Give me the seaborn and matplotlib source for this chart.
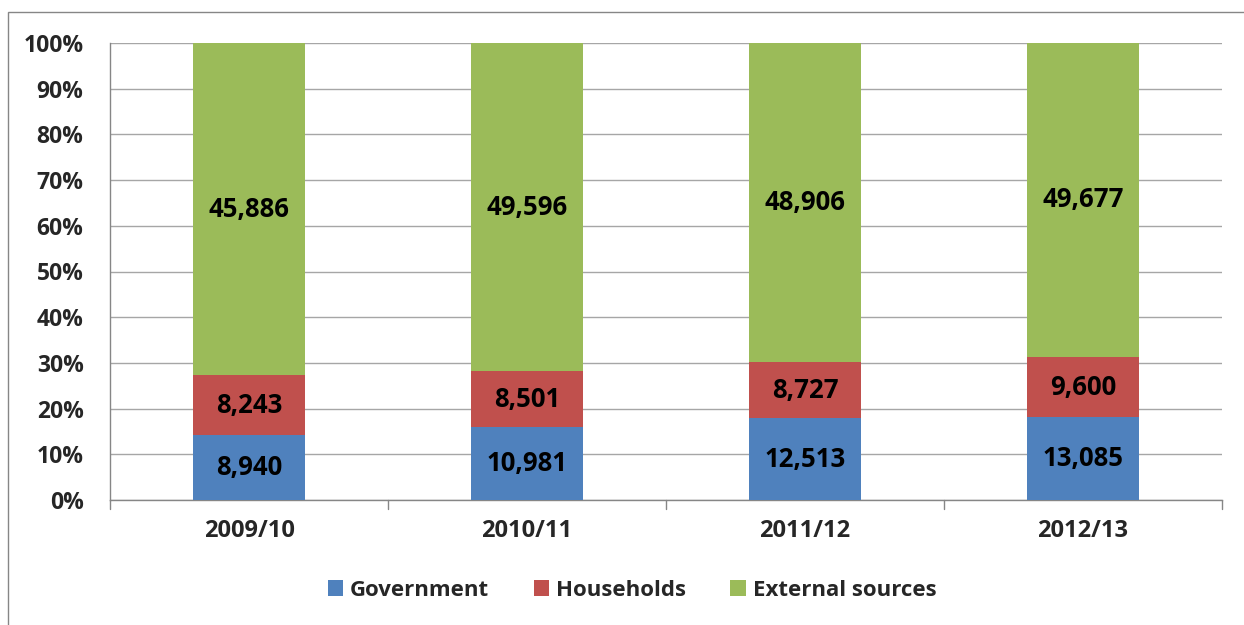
import matplotlib
matplotlib.use("Agg")
import matplotlib.pyplot as plt
import seaborn as sns
import numpy as np
import pandas as pd
from matplotlib.patches import Rectangle, Patch

years = ["2009/10", "2010/11", "2011/12", "2012/13"]
government = [8940, 10981, 12513, 13085]
households = [8243, 8501, 8727, 9600]
external = [45886, 49596, 48906, 49677]

series_names = ["Government", "Households", "External sources"]
colors = ["#4F81BD", "#C0504D", "#9BBB59"]

sns.set_theme(style="white")
plt.rcParams["font.family"] = ["Open Sans", "DejaVu Sans"]
plt.rcParams["font.weight"] = "bold"

values = np.array([government, households, external], dtype=float)
totals = values.sum(axis=0)
shares = values / totals * 100

fig = plt.figure(figsize=(12.44, 6.25), dpi=100)
ax = fig.add_axes([110 / 1244, 1 - 500 / 625, (1222 - 110) / 1244, (500 - 43) / 625])

# outer chart frame
fig.patches.append(Rectangle((8 / 1244, -0.1), 1.2, 1 - 12 / 625 + 0.1,
                             transform=fig.transFigure, fill=False,
                             edgecolor="#868686", linewidth=1.0, zorder=0))

bottom = np.zeros(len(years))
for i, name in enumerate(series_names):
    df = pd.DataFrame({"year": years, "share": shares[i]})
    sns.barplot(data=df, x="year", y="share", bottom=bottom, color=colors[i],
                width=0.4, ax=ax, saturation=1, linewidth=0, zorder=3)
    for j in range(len(years)):
        ax.text(j, bottom[j] + shares[i][j] / 2, f"{int(values[i][j]):,}",
                ha="center", va="center", fontsize=18.5, fontweight="bold",
                color="black", zorder=4)
    bottom = bottom + shares[i]

ax.set_xlim(-0.5, 3.5)
ax.set_ylim(0, 100)
ax.set_yticks(np.arange(0, 101, 10))
ax.set_yticklabels([f"{v}%" for v in range(0, 101, 10)])
ax.yaxis.grid(True, color="#A6A6A6", linewidth=1.0, zorder=0)
ax.set_axisbelow(True)
ax.set_xlabel("")
ax.set_ylabel("")

for side in ["top", "right"]:
    ax.spines[side].set_visible(False)
for side in ["left", "bottom"]:
    ax.spines[side].set_color("#868686")
    ax.spines[side].set_linewidth(1.0)

ax.tick_params(axis="y", length=8, width=1, color="#868686", labelsize=16.5, pad=11)
ax.tick_params(axis="x", length=0, labelsize=17, pad=14)
for lbl in ax.get_xticklabels() + ax.get_yticklabels():
    lbl.set_fontweight("bold")

# category separator ticks below the axis
for b in np.arange(-0.5, 4.0, 1.0):
    ax.plot([b, b], [0, -2], color="#868686", linewidth=1.0, clip_on=False,
            transform=ax.transData, zorder=2)

handles = [Patch(facecolor=c, edgecolor="none") for c in colors]
fig.legend(handles, series_names, loc="center", bbox_to_anchor=(632 / 1244, 1 - 590 / 625),
           ncol=3, frameon=False, handlelength=0.7, handleheight=0.7,
           columnspacing=2.0, handletextpad=0.3, prop={"weight": "bold", "size": 16})

fig.savefig("out.png", dpi=100)
